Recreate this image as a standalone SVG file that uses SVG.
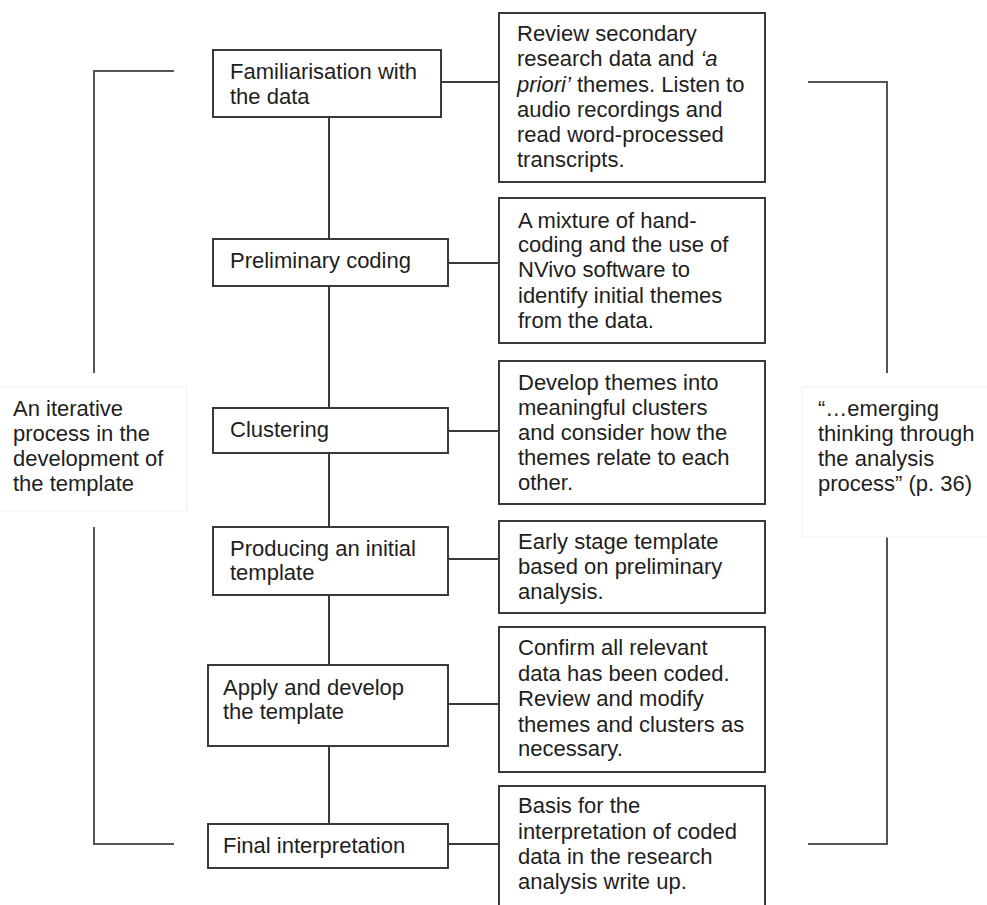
<svg xmlns="http://www.w3.org/2000/svg" width="987" height="905" viewBox="0 0 987 905">
<style>
.box{fill:#fff;stroke:#3a3a3a;stroke-width:2}
.lbl{fill:#fff;stroke:#f0f0f0;stroke-width:1}
.ln{stroke:#3a3a3a;stroke-width:2;fill:none}
.br{stroke:#555;stroke-width:2;fill:none}
text{font-family:"Liberation Sans",Arial,sans-serif;font-size:22px;fill:#1e1e1e}
</style>
<rect width="987" height="905" fill="#fff"/>
<g id="connectors">
<line class="ln" x1="329" y1="117" x2="329" y2="239"/>
<line class="ln" x1="329" y1="286" x2="329" y2="408"/>
<line class="ln" x1="329" y1="453" x2="329" y2="527"/>
<line class="ln" x1="329" y1="595" x2="329" y2="665"/>
<line class="ln" x1="329" y1="746" x2="329" y2="824"/>
<line class="ln" x1="441" y1="82" x2="499" y2="82"/>
<line class="ln" x1="448" y1="263" x2="499" y2="263"/>
<line class="ln" x1="448" y1="431" x2="499" y2="431"/>
<line class="ln" x1="448" y1="559" x2="499" y2="559"/>
<line class="ln" x1="448" y1="704" x2="499" y2="704"/>
<line class="ln" x1="448" y1="844" x2="499" y2="844"/>
</g>
<g id="bracket-left">
<polyline class="br" points="174,71 94,71 94,373"/>
<polyline class="br" points="94,527 94,844 174,844"/>
</g>
<g id="bracket-right">
<polyline class="br" points="808,82 887,82 887,373"/>
<polyline class="br" points="887,520 887,844 808,844"/>
</g>
<g id="label-left">
<rect class="lbl" x="-1" y="387" width="188" height="124"/>
<text x="13" y="416">An iterative</text>
<text x="13" y="441">process in the</text>
<text x="13" y="466">development of</text>
<text x="13" y="491">the template</text>
</g>
<g id="label-right">
<rect class="lbl" x="802" y="387" width="190" height="150"/>
<text x="818" y="416">“…emerging</text>
<text x="818" y="441">thinking through</text>
<text x="818" y="466">the analysis</text>
<text x="818" y="491">process” (p. 36)</text>
</g>
<g id="step1">
<rect class="box" x="213" y="50" width="228" height="67"/>
<text x="230" y="79">Familiarisation with</text>
<text x="230" y="104">the data</text>
</g>
<g id="step2">
<rect class="box" x="213" y="239" width="235" height="47"/>
<text x="230" y="268">Preliminary coding</text>
</g>
<g id="step3">
<rect class="box" x="213" y="408" width="235" height="45"/>
<text x="230" y="437">Clustering</text>
</g>
<g id="step4">
<rect class="box" x="213" y="527" width="235" height="68"/>
<text x="230" y="556">Producing an initial</text>
<text x="230" y="580">template</text>
</g>
<g id="step5">
<rect class="box" x="208" y="665" width="240" height="81"/>
<text x="223" y="695">Apply and develop</text>
<text x="223" y="719">the template</text>
</g>
<g id="step6">
<rect class="box" x="208" y="824" width="240" height="44"/>
<text x="223" y="853">Final interpretation</text>
</g>
<g id="desc1">
<rect class="box" x="499" y="13" width="266" height="169"/>
<text x="517" y="41">Review secondary</text>
<text x="517" y="66">research data and <tspan font-style="italic">‘a</tspan></text>
<text x="517" y="92"><tspan font-style="italic">priori’</tspan> themes. Listen to</text>
<text x="517" y="117">audio recordings and</text>
<text x="517" y="142">read word-processed</text>
<text x="517" y="167">transcripts.</text>
</g>
<g id="desc2">
<rect class="box" x="499" y="198" width="266" height="145"/>
<text x="518" y="228">A mixture of hand-</text>
<text x="518" y="252">coding and the use of</text>
<text x="518" y="277">NVivo software to</text>
<text x="518" y="303">identify initial themes</text>
<text x="518" y="328">from the data.</text>
</g>
<g id="desc3">
<rect class="box" x="499" y="361" width="266" height="143"/>
<text x="518" y="390">Develop themes into</text>
<text x="518" y="415">meaningful clusters</text>
<text x="518" y="440">and consider how the</text>
<text x="518" y="465">themes relate to each</text>
<text x="518" y="490">other.</text>
</g>
<g id="desc4">
<rect class="box" x="499" y="521" width="266" height="92"/>
<text x="518" y="549">Early stage template</text>
<text x="518" y="574">based on preliminary</text>
<text x="518" y="599">analysis.</text>
</g>
<g id="desc5">
<rect class="box" x="499" y="627" width="266" height="145"/>
<text x="518" y="655">Confirm all relevant</text>
<text x="518" y="681">data has been coded.</text>
<text x="518" y="706">Review and modify</text>
<text x="518" y="732">themes and clusters as</text>
<text x="518" y="756">necessary.</text>
</g>
<g id="desc6">
<rect class="box" x="499" y="786" width="266" height="130"/>
<text x="518" y="813">Basis for the</text>
<text x="518" y="839">interpretation of coded</text>
<text x="518" y="864">data in the research</text>
<text x="518" y="889">analysis write up.</text>
</g>
</svg>
